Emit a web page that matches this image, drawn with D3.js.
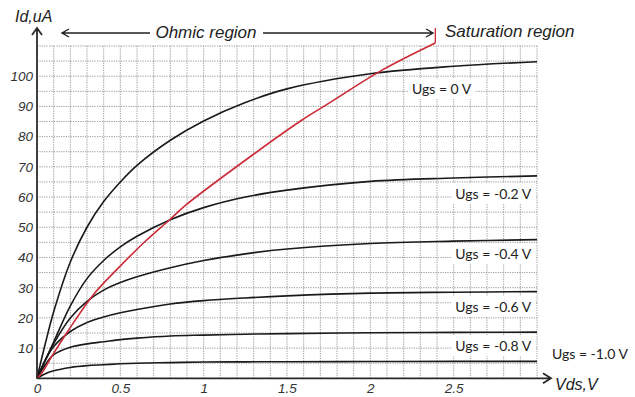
<!DOCTYPE html>
<html>
<head>
<meta charset="utf-8">
<script src="https://cdn.jsdelivr.net/npm/d3@7"></script>
<style>
  body { margin: 0; background: #fff; }
  .tick-label { font-family: "Liberation Sans", Arial, sans-serif; font-style: italic; font-size: 13.5px; fill: #333; }
  .title-text { font-family: "Liberation Sans", Arial, sans-serif; font-style: italic; fill: #222; }
  .ugs-label { font-family: Lato, "Open Sans", sans-serif; font-size: 14px; fill: #222; }
</style>
</head>
<body>
<div id="chart"></div>
<script>
// Data
var vdsPoints = [0, 0.05, 0.1, 0.2, 0.3, 0.4, 0.5, 0.6, 0.8, 1.0, 1.25, 1.5, 2.0, 2.5, 3.0];
var idUgs0   = [0, 11.5, 22, 38.5, 50, 58.5, 65, 70.5, 78.8, 85.2, 91.3, 95.8, 100.8, 103.3, 104.8];
var idUgsM02 = [0, 6, 12, 24, 33, 39, 43.5, 47, 52.5, 56.5, 60, 62.3, 65.2, 66.3, 67];
var idUgsM04 = [0, 6, 11.5, 20, 25.5, 29.2, 31.7, 33.6, 36.6, 39, 41.2, 42.8, 44.6, 45.4, 45.9];
var idUgsM06 = [0, 6, 10.5, 15.5, 18.5, 20.3, 21.7, 22.8, 24.6, 25.7, 26.6, 27.3, 28.2, 28.5, 28.7];
var idUgsM08 = [0, 4.5, 7.8, 10.3, 11.4, 12.1, 12.8, 13.3, 14, 14.3, 14.6, 14.8, 15.1, 15.2, 15.3];
var idUgsM10 = [0, 1.5, 2.5, 3.6, 4.2, 4.5, 4.8, 5, 5.2, 5.4, 5.45, 5.5, 5.55, 5.6, 5.6];
var ugsLabels = ["Ugs = 0 V", "Ugs = -0.2 V", "Ugs = -0.4 V", "Ugs = -0.6 V", "Ugs = -0.8 V", "Ugs = -1.0 V"];

// pinch-off boundary (red line)
var pinchVds = [0, 0.028, 0.088, 0.19, 0.337, 0.477, 0.647, 0.794, 0.894, 1.295, 1.59, 1.75, 2.07, 2.39];
var pinchId  = [0, 1.7, 7.2, 16, 27.6, 35.9, 45.2, 52.4, 57.4, 74, 85.5, 91, 102, 111];

var xTickValues = [0, 0.5, 1, 1.5, 2, 2.5];
var yTickValues = [10, 20, 30, 40, 50, 60, 70, 80, 90, 100];

// Set up our chart
var svgWidth = 635;
var svgHeight = 397;

var svg = d3.select("#chart")
  .append("svg")
  .attr("width", svgWidth)
  .attr("height", svgHeight);

var xScale = d3.scaleLinear().domain([0, 3]).range([37, 537]);
var yScale = d3.scaleLinear().domain([0, 110]).range([378.3, 46]);

// Grid
var gridGroup = svg.append("g")
  .attr("stroke", "#8c8c8c")
  .attr("stroke-width", 0.9)
  .attr("stroke-dasharray", "1.2,1.2");

gridGroup.selectAll(".vgrid")
  .data(d3.range(1, 31).map(function (i) { return i / 10; }))
  .enter()
  .append("line")
  .attr("x1", function (d) { return xScale(d); })
  .attr("x2", function (d) { return xScale(d); })
  .attr("y1", yScale(0))
  .attr("y2", yScale(110));

gridGroup.selectAll(".hgrid")
  .data(d3.range(1, 23).map(function (i) { return i * 5; }))
  .enter()
  .append("line")
  .attr("x1", xScale(0))
  .attr("x2", xScale(3))
  .attr("y1", function (d) { return yScale(d); })
  .attr("y2", function (d) { return yScale(d); });

// Curves
var curveData = [idUgs0, idUgsM02, idUgsM04, idUgsM06, idUgsM08, idUgsM10];

var line = d3.line()
  .x(function (d) { return xScale(d[0]); })
  .y(function (d) { return yScale(d[1]); })
  .curve(d3.curveCatmullRom.alpha(0.5));

svg.selectAll(".ugs-curve")
  .data(curveData)
  .enter()
  .append("path")
  .attr("class", "ugs-curve")
  .attr("d", function (ids) {
    return line(vdsPoints.map(function (v, i) { return [v, ids[i]]; }));
  })
  .attr("fill", "none")
  .attr("stroke", "#1a1a1a")
  .attr("stroke-width", 1.6);

svg.append("path")
  .attr("d", line(pinchVds.map(function (v, i) { return [v, pinchId[i]]; })))
  .attr("fill", "none")
  .attr("stroke", "#cc2a36")
  .attr("stroke-width", 1.6);

// red tick marking the region boundary
var lastVds = pinchVds[pinchVds.length - 1];
svg.append("line")
  .attr("x1", xScale(lastVds))
  .attr("x2", xScale(lastVds))
  .attr("y1", yScale(pinchId[pinchId.length - 1]))
  .attr("y2", 28)
  .attr("stroke", "#cc2a36")
  .attr("stroke-width", 1.3);

// Ugs labels with white background
var labelPos = [[2.25, 94], [2.51, 199], [2.51, 259], [2.51, 312], [2.51, 351], [3.09, 359]];

var labelGroups = svg.selectAll(".ugs-group")
  .data(ugsLabels)
  .enter()
  .append("g")
  .attr("transform", function (d, i) {
    return "translate(" + xScale(labelPos[i][0]) + "," + labelPos[i][1] + ")";
  });

labelGroups.append("rect")
  .attr("fill", "#fff");

labelGroups.append("text")
  .attr("class", "ugs-label")
  .text(function (d) { return d; });

labelGroups.each(function () {
  var g = d3.select(this);
  var bb = g.select("text").node().getBBox();
  g.select("rect")
    .attr("x", bb.x - 4)
    .attr("y", bb.y - 2)
    .attr("width", bb.width + 8)
    .attr("height", bb.height + 4);
});

// Axes (labels only, lines drawn by hand with arrows)
var xAxis = d3.axisBottom(xScale).tickValues(xTickValues).tickSize(0).tickPadding(5)
  .tickFormat(function (d) { return d; });
var yAxis = d3.axisLeft(yScale).tickValues(yTickValues).tickSize(0).tickPadding(4);

var xAxisGroup = svg.append("g")
  .attr("transform", "translate(0," + yScale(0) + ")")
  .call(xAxis);
var yAxisGroup = svg.append("g")
  .attr("transform", "translate(" + xScale(0) + ",0)")
  .call(yAxis);

[xAxisGroup, yAxisGroup].forEach(function (g) {
  g.select(".domain").remove();
  g.selectAll("text")
    .attr("class", "tick-label")
    .attr("fill", null)
    .attr("font-size", null)
    .attr("font-family", null);
});

var axisStroke = "#2a2a2a";
var ox = xScale(0);
var oy = yScale(0);

svg.append("path")
  .attr("d", "M" + ox + "," + oy + "V28 M" + (ox - 5) + ",35 L" + ox + ",28 L" + (ox + 5) + ",35")
  .attr("fill", "none")
  .attr("stroke", axisStroke)
  .attr("stroke-width", 1.8);

svg.append("path")
  .attr("d", "M" + ox + "," + oy + "H551 M543," + (oy - 5) + " L551," + oy + " L543," + (oy + 5))
  .attr("fill", "none")
  .attr("stroke", axisStroke)
  .attr("stroke-width", 1.8);

// Axis titles
svg.append("text")
  .attr("class", "title-text")
  .attr("x", 15)
  .attr("y", 22)
  .attr("font-size", "16px")
  .text("Id,uA");

svg.append("text")
  .attr("class", "title-text")
  .attr("x", 555)
  .attr("y", 390)
  .attr("font-size", "16px")
  .text("Vds,V");

// Region arrow
var arrowY = 33;
svg.append("path")
  .attr("d", "M62," + arrowY + "H150 M263," + arrowY + "H433" +
    " M69," + (arrowY - 4) + " L62," + arrowY + " L69," + (arrowY + 4) +
    " M426," + (arrowY - 4) + " L433," + arrowY + " L426," + (arrowY + 4))
  .attr("fill", "none")
  .attr("stroke", "#222")
  .attr("stroke-width", 1.4);

svg.append("text")
  .attr("class", "title-text")
  .attr("x", 206)
  .attr("y", 38)
  .attr("text-anchor", "middle")
  .attr("font-size", "17px")
  .text("Ohmic region");

svg.append("text")
  .attr("class", "title-text")
  .attr("x", 445)
  .attr("y", 37)
  .attr("font-size", "17px")
  .text("Saturation region");
</script>
</body>
</html>
